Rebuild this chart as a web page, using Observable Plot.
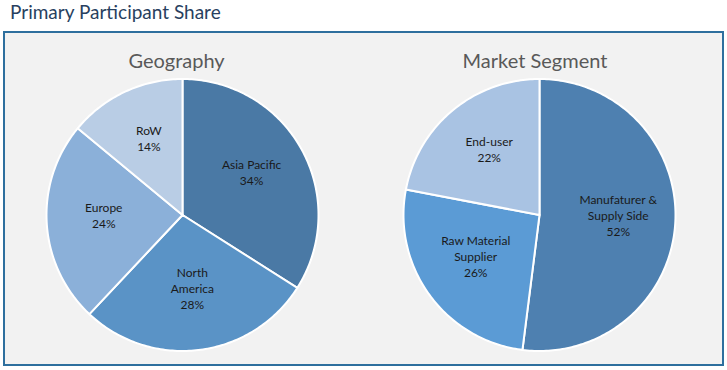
<!DOCTYPE html>
<html>
<head>
<meta charset="utf-8">
<script src="https://cdn.jsdelivr.net/npm/d3@7"></script>
<script src="https://cdn.jsdelivr.net/npm/@observablehq/plot@0.6"></script>
<style>
  body { margin: 0; background: #ffffff; width: 727px; height: 370px; position: relative; overflow: hidden; }
  #title { position: absolute; left: 10px; top: 0px; font-family: Lato, sans-serif; font-size: 19px; color: #283f60; }
  #box { position: absolute; left: 3px; top: 31px; width: 717px; height: 331px; border: 2px solid #2e6f9e; background: #f2f2f2; }
  .pie { position: absolute; top: 40px; }
</style>
</head>
<body>
<div id="title">Primary Participant Share</div>
<div id="box"></div>
<div id="geo" class="pie" style="left:31.5px"></div>
<div id="seg" class="pie" style="left:388.5px"></div>
<script>
const geoTitle = "Geography";
const geoNames = ["Asia Pacific", "North America", "Europe", "RoW"];
const geoLabels = ["Asia Pacific", "North\nAmerica", "Europe", "RoW"];
const geoValues = [34, 28, 24, 14];
const geoColors = ["#4a79a5", "#5a93c6", "#8bb0d9", "#b9cde5"];

const segTitle = "Market Segment";
const segNames = ["Manufacturer & Supply Side", "Raw Material Supplier", "End-user"];
const segLabels = ["Manufaturer &\nSupply Side", "Raw Material\nSupplier", "End-user"];
const segValues = [52, 26, 22];
const segColors = ["#4e80b0", "#5b9bd5", "#a9c3e3"];

function pie(title, names, labels, values, colors, titleDx) {
  const total = d3.sum(values);
  const points = [];
  const labelData = [];
  let acc = 0;
  names.forEach((name, i) => {
    const a0 = acc / total * 2 * Math.PI;
    acc += values[i];
    const a1 = acc / total * 2 * Math.PI;
    points.push({name, x: 0, y: 0});
    const n = Math.max(2, Math.ceil((a1 - a0) / (Math.PI / 180)));
    for (let k = 0; k <= n; k++) {
      const a = a0 + (a1 - a0) * k / n;
      points.push({name, x: Math.sin(a), y: Math.cos(a)});
    }
    points.push({name, x: 0, y: 0});
    const am = (a0 + a1) / 2;
    labelData.push({label: labels[i] + "\n" + values[i] + "%", x: 0.58 * Math.sin(am), y: 0.58 * Math.cos(am) + 0.04});
  });
  return Plot.plot({
    width: 300,
    height: 320,
    marginLeft: 14,
    marginRight: 14,
    marginTop: 38.5,
    marginBottom: 9.5,
    x: {domain: [-1, 1], axis: null},
    y: {domain: [-1, 1], axis: null},
    color: {domain: names, range: colors},
    style: {fontFamily: "Lato, sans-serif", background: "transparent", overflow: "visible"},
    marks: [
      Plot.line(points, {x: "x", y: "y", z: "name", fill: "name", stroke: "white", strokeWidth: 2, strokeLinejoin: "round"}),
      Plot.text(labelData, {x: "x", y: "y", text: "label", fontSize: 12, lineHeight: 1.33, fill: "#1a1a1a"}),
      Plot.text([title], {frameAnchor: "top", dx: titleDx, dy: -25, fontSize: 20, fill: "#595959"})
    ]
  });
}

document.getElementById("geo").append(pie(geoTitle, geoNames, geoLabels, geoValues, geoColors, -6));
document.getElementById("seg").append(pie(segTitle, segNames, segLabels, segValues, segColors, -4.5));
</script>
</body>
</html>
